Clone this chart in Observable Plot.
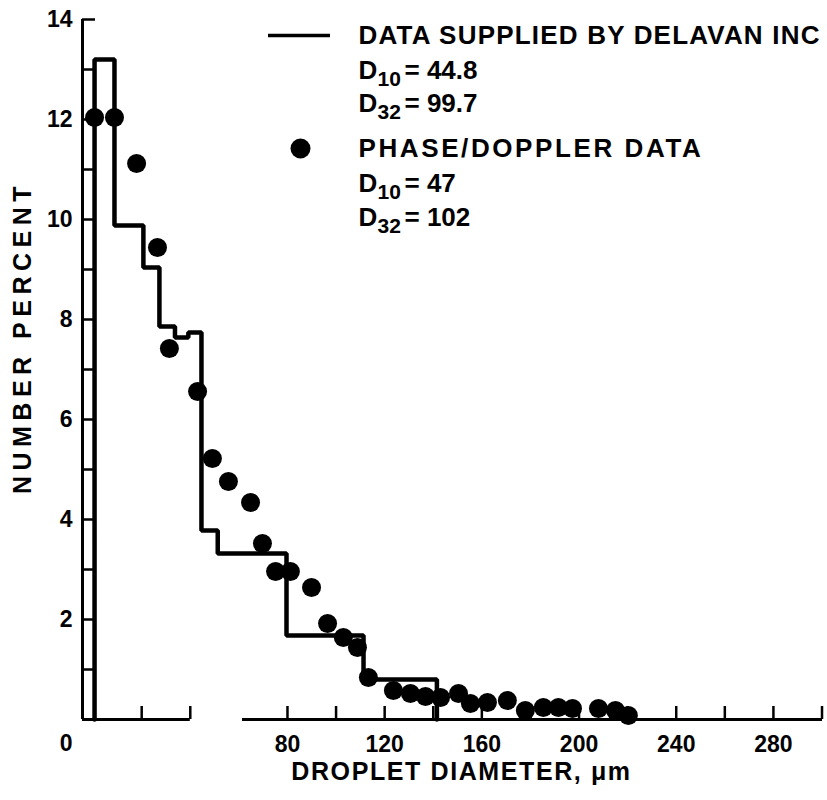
<!DOCTYPE html>
<html><head><meta charset="utf-8">
<script src="https://cdn.jsdelivr.net/npm/d3@7"></script>
<script src="https://cdn.jsdelivr.net/npm/@observablehq/plot@0.6"></script>
<style>body{margin:0;background:#fff;}</style>
</head><body><div id="chart"></div>
<script>
// ---- data ----
// Delavan histogram: bin edges (µm) and number percent per bin
const histEdges = [0.6, 8.8, 20.7, 27.3, 33.7, 39.2, 44.6, 51.3, 79.6, 111.3, 141.5];
const histValues = [13.2, 9.88, 9.04, 7.86, 7.64, 7.74, 3.78, 3.32, 1.68, 0.8];
// Phase/Doppler points
const dotX = [0.6, 8.8, 17.9, 26.5, 31.4, 43.0, 49.1, 55.7, 64.8, 69.7, 75.1, 81.2, 89.9, 96.5, 103.0, 108.8, 113.3, 123.6, 130.6, 136.8, 143.0, 150.4, 155.3, 162.3, 170.5, 177.9, 185.3, 191.5, 197.3, 208.0, 215.0, 220.3];
const dotY = [12.04, 12.04, 11.12, 9.44, 7.42, 6.56, 5.22, 4.76, 4.34, 3.52, 2.96, 2.96, 2.64, 1.92, 1.64, 1.44, 0.84, 0.58, 0.52, 0.46, 0.44, 0.52, 0.32, 0.34, 0.38, 0.18, 0.24, 0.24, 0.22, 0.22, 0.18, 0.08];
// ticks
const yTickValues = [1,2,3,4,5,6,7,8,9,10,11,12,13,14];
const yLabelValues = [2,4,6,8,10,12,14];
const xTickValues = [20,40,80,100,120,140,160,180,200,220,240,260,280,300];
const xLabelValues = [80,120,160,200,240,280];
const xAxisSegments = [[-4.36, 40], [61.5, 300.2]];
const legendTitles = ["DATA SUPPLIED BY DELAVAN INC", "PHASE/DOPPLER DATA"];
const legendStats = [["10","44.8"],["32","99.7"],["10","47"],["32","102"]];

// ---- layout ----
const W = 827, H = 800, mL = 82, mR = 5, mT = 19, mB = 81;
const xDomain = [-4.36, 300.2], yDomain = [0, 14];
const xPx = d3.scaleLinear(xDomain, [mL, W - mR]);
const yPx = d3.scaleLinear(yDomain, [H - mB, mT]);
const xMin = xDomain[0];
const font = "'Liberation Sans', Arial, Helvetica, sans-serif";

const histPts = [{x: histEdges[0], y: 0}].concat(histEdges.map((e, i) => ({x: e, y: i < histValues.length ? histValues[i] : 0})));
const dots = dotX.map((x, i) => ({x, y: dotY[i]}));
const segs = xAxisSegments.map(([a, b]) => ({a, b}));

const legX = xPx.invert(358);
const rowY = [35, 70, 103, 148, 183, 217].map(p => yPx.invert(p));
const statRows = legendStats.map((s, i) => ({sub: s[0], val: s[1], y: rowY[i < 2 ? i + 1 : i + 2]}));

const bold = {fontWeight: "bold", fill: "black"};

const chart = Plot.plot({
  width: W, height: H,
  marginLeft: mL, marginRight: mR, marginTop: mT, marginBottom: mB,
  x: {domain: xDomain, axis: null},
  y: {domain: yDomain, axis: null},
  style: {fontFamily: font, background: "#fff", color: "#000", overflow: "visible"},
  marks: [
    // y axis line + inward ticks
    Plot.ruleX([xMin], {y1: 0, y2: 14, stroke: "black", strokeWidth: 3}),
    Plot.ruleY(yTickValues, {y: d => d, x1: xMin, x2: xPx.invert(xPx(xMin) + 13), stroke: "black", strokeWidth: 2.5}),
    // x axis line (broken) + upward ticks
    Plot.ruleY(segs, {y: 0, x1: "a", x2: "b", stroke: "black", strokeWidth: 3}),
    Plot.ruleX(xTickValues, {x: d => d, y1: 0, y2: yPx.invert(yPx(0) - 13), stroke: "black", strokeWidth: 2.5}),
    // histogram
    Plot.line(histPts, {x: "x", y: "y", curve: "step-after", stroke: "black", strokeWidth: 4.5, strokeLinejoin: "miter"}),
    // points
    Plot.dot(dots, {x: "x", y: "y", r: 9.5, fill: "black", stroke: "none"}),
    // tick labels
    Plot.text(yLabelValues, {x: xMin, y: d => d, text: d => String(d), textAnchor: "end", dx: -10, fontSize: 23, ...bold}),
    Plot.text([0], {x: xMin, y: 0, text: d => String(d), textAnchor: "end", dx: -10, dy: 24, fontSize: 23, ...bold}),
    Plot.text(xLabelValues, {x: d => d, y: 0, text: d => String(d), dy: 25, fontSize: 23, ...bold}),
    // axis titles
    Plot.text(["DROPLET DIAMETER, \u03bcm"], {frameAnchor: "bottom", textAnchor: "middle", dx: 9, dy: 60, fontSize: 25, ...bold}),
    Plot.text(["NUMBER PERCENT"], {frameAnchor: "left", textAnchor: "middle", rotate: -90, dx: -60, dy: -32, fontSize: 25, ...bold}),
    // legend
    Plot.ruleY([rowY[0]], {y: d => d, x1: xPx.invert(268), x2: xPx.invert(330), stroke: "black", strokeWidth: 3.5}),
    Plot.dot([rowY[3]], {x: xPx.invert(300), y: d => d, r: 10, fill: "black", stroke: "none"}),
    Plot.text(legendTitles, {x: legX, y: (d, i) => rowY[i === 0 ? 0 : 3], text: d => d, textAnchor: "start", fontSize: 26, ...bold}),
    Plot.text(statRows, {x: legX, y: "y", text: () => "D", textAnchor: "start", fontSize: 26, ...bold}),
    Plot.text(statRows, {x: legX, y: "y", text: "sub", textAnchor: "start", dx: 19, dy: 9, fontSize: 21, ...bold}),
    Plot.text(statRows, {x: legX, y: "y", text: d => "= " + d.val, textAnchor: "start", dx: 46, fontSize: 26, ...bold})
  ]
});
const spacing = {"NUMBER PERCENT": "5.5px", "DROPLET DIAMETER, \u03bcm": "1.6px", "DATA SUPPLIED BY DELAVAN INC": "1.2px", "PHASE/DOPPLER DATA": "2.6px"};
d3.select(chart).selectAll("text").each(function() {
  const s = spacing[this.textContent];
  if (s) this.setAttribute("letter-spacing", s);
});
document.getElementById("chart").appendChild(chart);
</script>
</body></html>
